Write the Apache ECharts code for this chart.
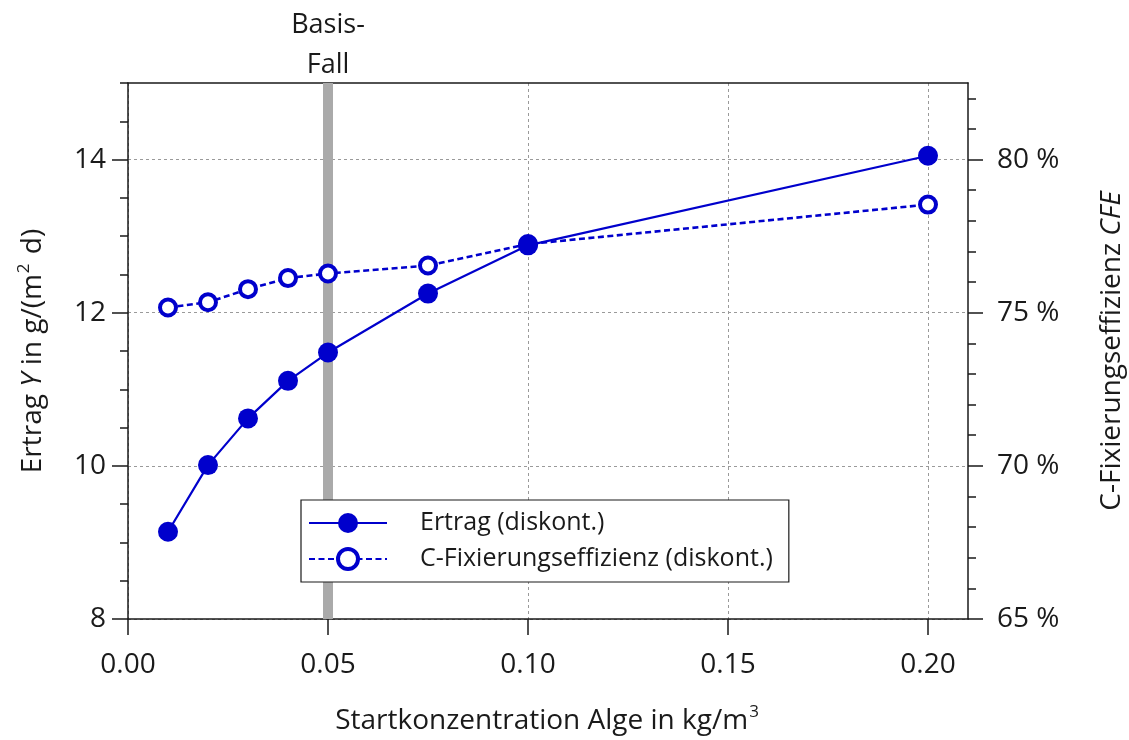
<!DOCTYPE html>
<html>
<head>
<meta charset="utf-8">
<script src="https://cdn.jsdelivr.net/npm/echarts@6/dist/echarts.min.js"></script>
<style>
  html, body { margin: 0; padding: 0; background: #fff; }
  #chart { width: 1129px; height: 740px; }
</style>
</head>
<body>
<div id="chart"></div>
<script>
// Startkonzentration der Alge (kg/m³)
const concentration = [0.01, 0.02, 0.03, 0.04, 0.05, 0.075, 0.1, 0.2];
// Ertrag Y in g/(m² d)
const ertrag = [9.14, 10.01, 10.62, 11.11, 11.48, 12.25, 12.88, 14.05];
// C-Fixierungseffizienz in %
const cfe = [75.17, 75.34, 75.77, 76.13, 76.28, 76.54, 77.24, 78.53];

const xTicks = [0, 0.05, 0.10, 0.15, 0.20];
const yTicks = [8, 10, 12, 14];
const cfeTicks = [65, 70, 75, 80];
const basisFall = 0.05;

const seriesNames = ['Ertrag (diskont.)', 'C-Fixierungseffizienz (diskont.)'];

// minor tick positions: every 0.5 on the left scale, every 1 % on the right scale
const yMinor = [];
for (let v = 8; v <= 15; v += 0.5) yMinor.push(v);
const cfeMinor = [];
for (let v = 65; v <= 82; v += 1) cfeMinor.push(v);

const BLUE = '#0000cc';
const INK = '#1a1a1a';
const FONT = 'Open Sans';
const FS = 28;

const axisLine = { show: true, lineStyle: { color: INK, width: 1.5 } };
const tickStyle = { color: INK, width: 1.5 };
const gridDash = { color: '#9a9a9a', width: 1, type: [3, 3] };
const nameRich = {
  n: { fontFamily: FONT, fontSize: FS, color: INK, lineHeight: 34 },
  it: { fontFamily: FONT, fontSize: FS, color: INK, fontStyle: 'italic', lineHeight: 34 },
  sup: { fontFamily: FONT, fontSize: 17, color: INK, verticalAlign: 'top', lineHeight: 18, padding: [0, 2, 0, 1] }
};

const chart = echarts.init(document.getElementById('chart'), null, { renderer: 'canvas' });

chart.setOption({
  animation: false,
  backgroundColor: '#fff',
  textStyle: { fontFamily: FONT },
  grid: { left: 128, right: 161, top: 83, bottom: 121, containLabel: false, outerBoundsMode: 'none' },
  legend: {
    data: [
      { name: seriesNames[0] },
      { name: seriesNames[1], itemStyle: { color: '#ffffff', borderColor: BLUE, borderWidth: 4 } }
    ],
    orient: 'vertical',
    left: 301,
    top: 500,
    backgroundColor: '#fff',
    borderColor: INK,
    borderWidth: 1.2,
    borderRadius: 0,
    padding: [10, 16, 10, 7],
    itemWidth: 78,
    itemHeight: 25,
    itemGap: 10,
    textStyle: { fontFamily: FONT, fontSize: 25, color: INK, lineHeight: 26, padding: [0, 0, 0, 28] }
  },
  xAxis: [
    {
      type: 'value', position: 'bottom', min: 0, max: 0.21, interval: 0.05,
      axisLine: axisLine,
      axisTick: { show: true, inside: false, length: 16, customValues: xTicks, lineStyle: tickStyle },
      axisLabel: {
        customValues: xTicks, margin: 32, fontFamily: FONT, fontSize: FS, color: INK,
        formatter: v => v.toFixed(2)
      },
      splitLine: { show: true, lineStyle: gridDash },
      name: '{n|Startkonzentration Alge in kg/m}{sup|3}',
      nameLocation: 'middle', nameGap: 85,
      nameTextStyle: { rich: nameRich }
    },
    {
      type: 'value', position: 'top', min: 0, max: 0.21,
      axisLine: axisLine, axisTick: { show: false }, axisLabel: { show: false }, splitLine: { show: false }
    }
  ],
  yAxis: [
    {
      type: 'value', position: 'left', min: 8, max: 15, interval: 2,
      axisLine: axisLine,
      axisTick: { show: true, inside: false, length: 16, customValues: yTicks, lineStyle: tickStyle },
      axisLabel: { customValues: yTicks, margin: 22, fontFamily: FONT, fontSize: FS, color: INK },
      splitLine: { show: true, lineStyle: gridDash },
      name: '{n|Ertrag }{it|Y}{n| in g/(m}{sup|2}{n| d)}',
      nameLocation: 'middle', nameRotate: 90, nameGap: 78,
      nameTextStyle: { rich: nameRich }
    },
    {
      type: 'value', position: 'left', min: 8, max: 15,
      axisLine: { show: false },
      axisTick: { show: true, inside: false, length: 8, customValues: yMinor, lineStyle: tickStyle },
      axisLabel: { show: false }, splitLine: { show: false }
    },
    {
      type: 'value', position: 'right', min: 65, max: 82.5, interval: 5,
      axisLine: axisLine,
      axisTick: { show: true, inside: false, length: 15, customValues: cfeTicks, lineStyle: tickStyle },
      axisLabel: {
        customValues: cfeTicks, margin: 29, fontFamily: FONT, fontSize: FS, color: INK,
        formatter: v => v + ' %'
      },
      splitLine: { show: false },
      name: '{n|C-Fixierungseffizienz }{it|CFE}',
      nameLocation: 'middle', nameRotate: 90, nameGap: 127,
      nameTextStyle: { rich: nameRich }
    },
    {
      type: 'value', position: 'right', min: 65, max: 82.5,
      axisLine: { show: false },
      axisTick: { show: true, inside: false, length: 8, customValues: cfeMinor, lineStyle: tickStyle },
      axisLabel: { show: false }, splitLine: { show: false }
    }
  ],
  series: [
    {
      // grey band marking the base case
      type: 'line', name: 'Basis-Fall', data: [], xAxisIndex: 0, yAxisIndex: 0, z: 1,
      markLine: {
        silent: true, symbol: ['none', 'none'], z: 1,
        lineStyle: { color: '#aaaaaa', width: 10, type: 'solid' },
        label: {
          show: true, position: 'end', distance: -2,
          formatter: 'Basis-\nFall',
          fontFamily: FONT, fontSize: 27, lineHeight: 40, color: INK
        },
        emphasis: { disabled: true },
        data: [{ xAxis: basisFall }]
      }
    },
    {
      type: 'line', name: seriesNames[0], xAxisIndex: 0, yAxisIndex: 0, z: 4,
      data: concentration.map((x, i) => [x, ertrag[i]]),
      color: BLUE,
      symbol: 'circle', symbolSize: 20,
      itemStyle: { color: BLUE },
      lineStyle: { color: BLUE, width: 2.2, type: 'solid' }
    },
    {
      type: 'line', name: seriesNames[1], xAxisIndex: 0, yAxisIndex: 2, z: 3,
      data: concentration.map((x, i) => [x, cfe[i]]),
      color: BLUE,
      symbol: 'circle', symbolSize: 16,
      itemStyle: { color: '#ffffff', borderColor: BLUE, borderWidth: 4 },
      lineStyle: { color: BLUE, width: 2.6, type: [6, 3.5] }
    }
  ]
});
</script>
</body>
</html>
